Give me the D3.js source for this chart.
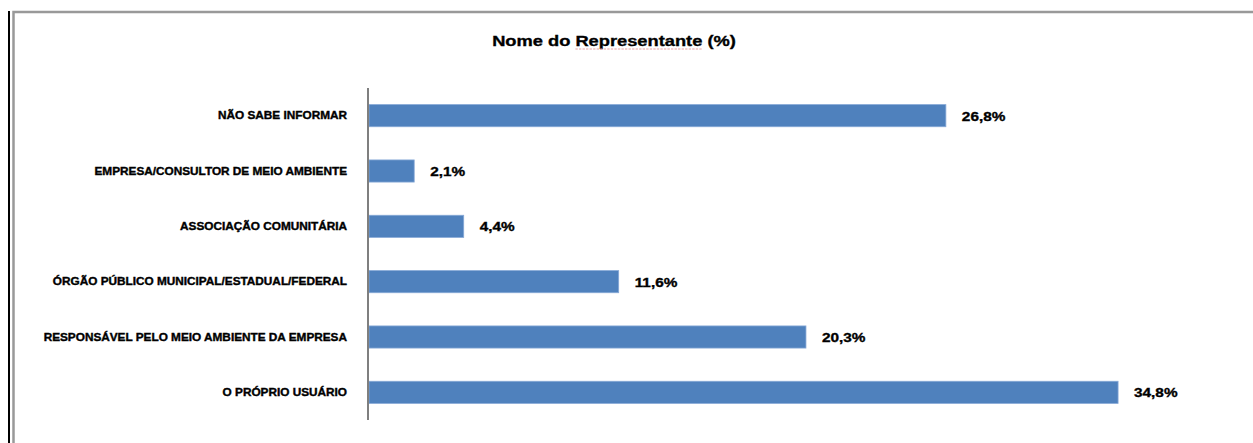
<!DOCTYPE html>
<html>
<head>
<meta charset="utf-8">
<script src="https://cdn.jsdelivr.net/npm/d3@7"></script>
<style>
  body { margin: 0; background: #fff; }
  svg { display: block; }
  text { font-family: "Liberation Sans", Arial, sans-serif; font-weight: bold; fill: #000;
         stroke: #000; stroke-width: 0.35px; }
</style>
</head>
<body>
<div id="chart"></div>
<script>
// data, top bar first
var categories = [
  "NÃO SABE INFORMAR",
  "EMPRESA/CONSULTOR DE MEIO AMBIENTE",
  "ASSOCIAÇÃO COMUNITÁRIA",
  "ÓRGÃO PÚBLICO MUNICIPAL/ESTADUAL/FEDERAL",
  "RESPONSÁVEL PELO MEIO AMBIENTE DA EMPRESA",
  "O PRÓPRIO USUÁRIO"
];
var values = [26.8, 2.1, 4.4, 11.6, 20.3, 34.8];
var valueLabels = ["26,8%", "2,1%", "4,4%", "11,6%", "20,3%", "34,8%"];
var titleParts = ["Nome do ", "Representante", " (%)"];

var W = 1253, H = 443;
var stretch = 1.18; // text in the picture is wider than plain Arial bold

var svg = d3.select('#chart').append('svg').attr('width', W).attr('height', H);

// frame
svg.append('line').attr('x1', 9).attr('x2', 9).attr('y1', 11).attr('y2', H)
  .attr('stroke', '#000').attr('stroke-width', 2);
svg.append('rect').attr('x', 13.5).attr('y', 12).attr('width', W + 20).attr('height', H + 20)
  .attr('fill', 'none').attr('stroke', '#999').attr('stroke-width', 2.5);

var x = d3.scaleLinear().domain([0, 40]).range([369, 1230]);
var y = d3.scaleBand().domain(categories).range([88, 420])
  .paddingInner(0.6).paddingOuter(0.3);

// title
var title = svg.append('g').attr('transform', 'translate(614,46) scale(' + stretch + ',1)');
var tt = title.append('text').attr('text-anchor', 'middle').style('font-size', '15.5px');
tt.selectAll('tspan').data(titleParts).enter().append('tspan').text(function(d) { return d; });
// spell-check squiggle under the middle word
var tnode = tt.node();
var s0 = tnode.getStartPositionOfChar(titleParts[0].length).x;
var s1 = tnode.getEndPositionOfChar(titleParts[0].length + titleParts[1].length - 1).x;
title.append('line').attr('x1', s0).attr('x2', s1).attr('y1', 3).attr('y2', 3)
  .attr('stroke', '#e8a3a3').attr('stroke-width', 1).attr('stroke-dasharray', '2,1');

// bars
svg.selectAll('rect.bar')
  .data(values)
  .enter()
  .append('rect')
  .attr('class', 'bar')
  .attr('x', x(0))
  .attr('y', function(d, i) { return y(categories[i]); })
  .attr('width', function(d) { return x(d) - x(0); })
  .attr('height', y.bandwidth())
  .attr('fill', '#4f81bd')
  .attr('stroke', '#86a8d6')
  .attr('stroke-width', 0.8);

// axis line
svg.append('line').attr('x1', 368).attr('x2', 368).attr('y1', 88).attr('y2', 420)
  .attr('stroke', '#7f7f7f').attr('stroke-width', 2);

// category labels
svg.selectAll('g.cat')
  .data(categories)
  .enter()
  .append('g')
  .attr('class', 'cat')
  .attr('transform', function(d) {
    return 'translate(' + (x(0) - 22) + ',' + (y(d) + y.bandwidth() / 2 + 3.5) + ') scale(' + stretch + ',1)';
  })
  .append('text')
  .attr('text-anchor', 'end')
  .style('font-size', '10px')
  .text(function(d) { return d; });

// value labels
svg.selectAll('g.val')
  .data(values)
  .enter()
  .append('g')
  .attr('class', 'val')
  .attr('transform', function(d, i) {
    return 'translate(' + (x(d) + 16) + ',' + (y(categories[i]) + y.bandwidth() / 2 + 5) + ') scale(' + stretch + ',1)';
  })
  .append('text')
  .style('font-size', '13px')
  .text(function(d, i) { return valueLabels[i]; });
</script>
</body>
</html>
